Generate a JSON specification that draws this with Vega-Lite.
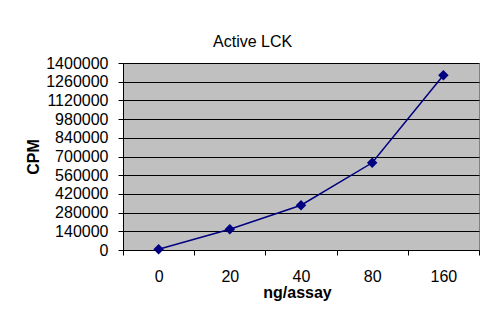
{
  "$schema": "https://vega.github.io/schema/vega-lite/v6.json",
  "width": 356,
  "height": 187,
  "autosize": {"type": "none"},
  "padding": {"left": 123, "top": 63, "right": 21, "bottom": 66},
  "background": "white",
  "title": {
    "text": "Active LCK",
    "font": "Liberation Sans",
    "fontSize": 16,
    "fontWeight": "normal",
    "color": "black",
    "anchor": "middle",
    "frame": "bounds",
    "baseline": "alphabetic",
    "offset": -8
  },
  "data": {
    "values": [
      {"ng": "0", "cpm": 6000},
      {"ng": "20", "cpm": 155000},
      {"ng": "40", "cpm": 335000},
      {"ng": "80", "cpm": 653000},
      {"ng": "160", "cpm": 1308000}
    ]
  },
  "encoding": {
    "x": {
      "field": "ng",
      "type": "ordinal",
      "sort": null,
      "scale": {"paddingInner": 0, "paddingOuter": 0},
      "axis": {
        "title": "ng/assay",
        "labelAngle": 0,
        "tickBand": "extent",
        "tickSize": 5,
        "labelPadding": 13,
        "titlePadding": 0,
        "titleX": 174,
        "grid": false
      }
    },
    "y": {
      "field": "cpm",
      "type": "quantitative",
      "scale": {"domain": [0, 1400000], "nice": false, "zero": true},
      "axis": {
        "title": "CPM",
        "values": [0, 140000, 280000, 420000, 560000, 700000, 840000, 980000, 1120000, 1260000, 1400000],
        "format": "d",
        "tickSize": 5,
        "labelPadding": 10,
        "titlePadding": 4,
        "grid": true,
        "gridColor": "#000000",
        "gridOpacity": 1,
        "gridWidth": 1
      }
    }
  },
  "layer": [
    {"mark": {"type": "line", "color": "#000080", "strokeWidth": 1.5}},
    {"mark": {"type": "point", "shape": "diamond", "filled": true, "size": 110, "color": "#000080", "opacity": 1}}
  ],
  "config": {
    "view": {"fill": "#C0C0C0", "stroke": "#808080", "strokeWidth": 1},
    "axis": {
      "labelFont": "Liberation Sans",
      "labelFontSize": 16,
      "labelColor": "#000000",
      "titleFont": "Liberation Sans",
      "titleFontSize": 16,
      "titleFontWeight": "bold",
      "titleColor": "#000000",
      "domainColor": "#000000",
      "tickColor": "#000000",
      "domainWidth": 1,
      "tickWidth": 1
    }
  }
}
